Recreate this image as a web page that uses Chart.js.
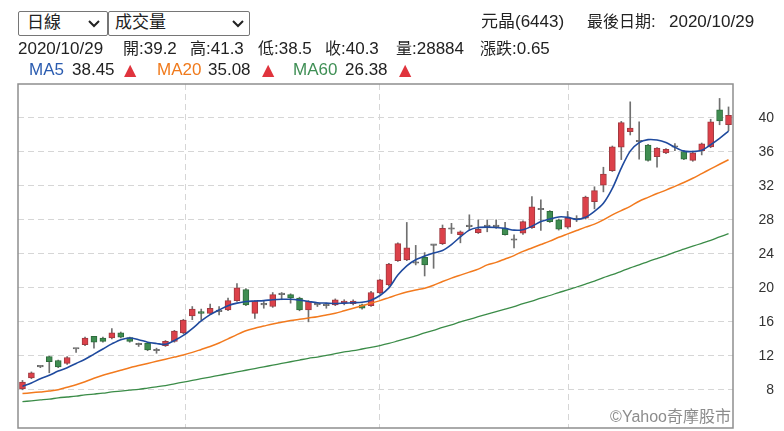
<!DOCTYPE html>
<html>
<head>
<meta charset="utf-8">
<title>元晶(6443) 日線</title>
<script src="https://cdn.jsdelivr.net/npm/chart.js@4.4.0/dist/chart.umd.min.js"></script>
<style>
    body { margin: 0; background: #fff; }
    #wrap { position: relative; width: 784px; height: 431px; overflow: hidden;
            font-family: "Liberation Sans", Arial, "Noto Sans CJK TC", sans-serif; color: #222; }
    #wrap canvas { position: absolute; left: 0; top: 0; }
    .t { position: absolute; font-size: 17px; line-height: 20px; white-space: nowrap; }
    .c { font-size: 16px; }
    .sel { position: absolute; top: 11px; height: 25px; box-sizing: border-box;
           border: 1px solid #767676; border-radius: 2px; background: #fff; }
    .sel span { position: absolute; top: 1px; font-size: 17px; line-height: 20px; }
    .sel svg { position: absolute; top: 8px; }
    .up { color: #e0343d; font-family: "DejaVu Sans", sans-serif; font-size: 16px; }
    #mark { position: absolute; right: 53px; top: 407px; font-size: 16px; line-height: 20px; color: #8c8c8c; }
</style>
</head>
<body>
<div id="wrap">
    <canvas id="kChart" width="784" height="431"></canvas>

    <div class="sel" style="left:18px;width:90px">
        <span style="left:8px">日線</span>
        <svg style="left:69px" width="12" height="8"><polyline points="1,1 6,6 11,1" fill="none" stroke="#222" stroke-width="2"/></svg>
    </div>
    <div class="sel" style="left:108px;width:142px">
        <span style="left:6px">成交量</span>
        <svg style="left:123px" width="12" height="8"><polyline points="1,1 6,6 11,1" fill="none" stroke="#222" stroke-width="2"/></svg>
    </div>

    <div class="t" style="left:481px;top:12px">元晶(6443)</div>
    <div class="t" style="left:587px;top:12px"><span class="c">最後日期</span>:</div>
    <div class="t" style="left:669px;top:12px">2020/10/29</div>

    <div class="t" style="left:18px;top:39px">2020/10/29</div>
    <div class="t" style="left:123px;top:39px"><span class="c">開</span>:39.2</div>
    <div class="t" style="left:190px;top:39px"><span class="c">高</span>:41.3</div>
    <div class="t" style="left:258px;top:39px"><span class="c">低</span>:38.5</div>
    <div class="t" style="left:325px;top:39px"><span class="c">收</span>:40.3</div>
    <div class="t" style="left:396px;top:39px"><span class="c">量</span>:28884</div>
    <div class="t" style="left:480px;top:39px"><span class="c">漲跌</span>:0.65</div>

    <div class="t" style="left:29px;top:60px;color:#2b5cb0">MA5</div>
    <div class="t" style="left:72px;top:60px">38.45</div>
    <div class="t up" style="left:124px;top:60px">▲</div>
    <div class="t" style="left:157px;top:60px;color:#f07a1c">MA20</div>
    <div class="t" style="left:208px;top:60px">35.08</div>
    <div class="t up" style="left:262px;top:60px">▲</div>
    <div class="t" style="left:293px;top:60px;color:#3f8f55">MA60</div>
    <div class="t" style="left:345px;top:60px">26.38</div>
    <div class="t up" style="left:399px;top:60px">▲</div>

    <div id="mark">©Yahoo<span>奇摩股市</span></div>
</div>

<script>
    // daily candles, oldest first (last one = 2020/10/29)
    const opens  = [8.1, 9.4, 10.7, 11.9, 11.45, 11.1, 12.8, 13.3, 14.3, 14.1,
                    14.1, 14.7, 14.15, 13.3, 13.5, 12.6, 13.2, 13.7, 14.7, 16.7,
                    17.2, 17.0, 17.2, 17.4, 18.5, 19.8, 17.0, 18.0, 17.8, 19.2,
                    19.2, 18.8, 17.4, 18.0, 17.9, 18.0, 18.2, 18.15, 18.0, 17.9,
                    19.4, 20.35, 23.2, 23.3, 22.9, 23.6, 25.0, 25.2, 26.9, 26.25,
                    27.2, 26.5, 27.2, 27.2, 27.0, 25.6, 26.45, 27.1, 29.2, 29.0,
                    28.0, 27.15, 28.0, 28.2, 30.15, 32.1, 33.8, 36.55, 38.4, 37.2,
                    36.8, 35.45, 35.9, 36.55, 36.05, 35.0, 36.15, 36.6, 40.95, 39.2];
    const highs  = [9.1, 10.1, 10.8, 11.95, 11.5, 11.9, 12.85, 14.2, 14.3, 14.2,
                    15.2, 14.8, 14.2, 13.5, 13.6, 12.9, 13.8, 15.0, 16.3, 17.8,
                    17.5, 18.1, 17.8, 18.8, 20.5, 19.9, 18.5, 18.4, 19.45, 19.45,
                    19.3, 18.9, 18.5, 18.1, 18.2, 18.7, 18.6, 18.6, 18.1, 19.6,
                    21.0, 22.9, 25.3, 27.7, 25.0, 24.15, 25.1, 27.4, 27.6, 26.7,
                    28.6, 28.0, 28.0, 28.0, 27.7, 26.25, 27.9, 30.75, 30.35, 29.1,
                    28.1, 29.0, 28.5, 30.8, 31.9, 34.2, 36.7, 39.6, 41.9, 39.55,
                    36.9, 36.5, 36.4, 37.0, 36.2, 36.1, 37.05, 39.85, 42.3, 41.3];
    const lows   = [8.0, 9.3, 10.6, 10.0, 10.6, 11.0, 12.4, 13.2, 12.9, 13.6,
                    14.0, 14.1, 13.6, 13.1, 12.6, 12.3, 13.1, 13.6, 14.6, 16.25,
                    16.2, 16.9, 16.8, 17.3, 18.4, 17.9, 16.4, 17.6, 17.7, 18.6,
                    18.2, 17.3, 16.0, 17.8, 17.6, 17.9, 18.0, 18.0, 17.5, 17.8,
                    19.3, 20.2, 23.1, 23.2, 22.7, 21.4, 22.3, 25.1, 26.4, 25.3,
                    26.8, 26.4, 26.6, 27.0, 26.2, 24.7, 26.3, 27.0, 26.75, 27.7,
                    26.8, 27.0, 27.8, 28.1, 29.3, 31.3, 33.7, 35.1, 38.0, 35.15,
                    34.9, 34.2, 35.8, 36.15, 35.1, 34.9, 35.65, 36.5, 39.2, 38.5];
    const closes = [8.9, 10.0, 10.7, 11.3, 10.7, 11.8, 12.8, 14.1, 13.6, 13.7,
                    14.7, 14.2, 13.7, 13.3, 12.7, 12.6, 13.7, 14.9, 16.2, 17.5,
                    17.0, 17.6, 17.2, 18.5, 20.0, 18.0, 18.4, 18.0, 19.2, 19.2,
                    18.8, 17.4, 18.4, 18.0, 17.9, 18.6, 18.45, 18.45, 17.6, 19.45,
                    20.95, 22.8, 25.2, 24.7, 22.9, 22.7, 25.0, 27.0, 26.9, 26.6,
                    27.2, 26.9, 27.2, 27.2, 26.25, 25.6, 27.8, 29.55, 29.2, 27.8,
                    26.9, 28.2, 28.0, 30.7, 31.45, 33.4, 36.6, 39.45, 38.8, 37.2,
                    35.0, 36.45, 36.3, 36.55, 35.15, 35.9, 36.95, 39.55, 39.65, 40.3];

    const ma5  = [8.4, 8.8, 9.3, 9.7, 10.2, 10.6, 11.1, 11.6, 12.2, 12.8,
                  13.4, 13.9, 14.1, 13.9, 13.6, 13.45, 13.35, 13.8, 14.4, 15.2,
                  16.1, 16.85, 17.4, 17.9, 18.2, 18.4, 18.45, 18.5, 18.6, 18.65,
                  18.65, 18.55, 18.4, 18.25, 18.2, 18.15, 18.2, 18.25, 18.3, 18.55,
                  19.1, 20.0, 21.5, 22.6, 23.3, 23.75, 24.1, 24.4, 25.1, 26.0,
                  26.8, 27.1, 27.15, 27.1, 27.0, 26.8, 26.85, 27.25, 27.8, 28.1,
                  28.35, 28.3, 28.05, 28.3, 29.0, 29.95, 31.7, 34.1, 36.1, 37.1,
                  37.45, 37.4, 37.1, 36.55, 36.1, 36.05, 36.2, 36.85, 37.6, 38.45];
    const ma20 = [7.55, 7.65, 7.75, 7.85, 8.0, 8.3, 8.6, 8.95, 9.35, 9.7,
                  10.0, 10.3, 10.6, 10.85, 11.1, 11.35, 11.6, 11.85, 12.1, 12.4,
                  12.75, 13.1, 13.5, 14.0, 14.5, 14.95, 15.25, 15.5, 15.75, 15.95,
                  16.15, 16.3, 16.45, 16.6, 16.8, 17.0, 17.3, 17.6, 17.9, 18.2,
                  18.5, 18.85, 19.2, 19.5, 19.75, 19.95, 20.3, 20.75, 21.15, 21.5,
                  21.85, 22.2, 22.7, 23.0, 23.4, 23.8, 24.3, 24.7, 25.1, 25.5,
                  25.95, 26.35, 26.75, 27.15, 27.5, 28.0, 28.6, 29.1, 29.6, 30.2,
                  30.65, 31.1, 31.5, 31.95, 32.4, 32.9, 33.45, 34.0, 34.55, 35.08];
    const ma60 = [6.6, 6.7, 6.8, 6.9, 7.05, 7.15, 7.25, 7.4, 7.5, 7.6,
                  7.75, 7.85, 7.95, 8.05, 8.2, 8.35, 8.5, 8.7, 8.9, 9.1,
                  9.3, 9.5, 9.7, 9.9, 10.1, 10.3, 10.5, 10.7, 10.9, 11.1,
                  11.3, 11.5, 11.7, 11.85, 12.05, 12.25, 12.45, 12.6, 12.8, 13.0,
                  13.2, 13.45, 13.75, 14.05, 14.35, 14.7, 15.0, 15.35, 15.65, 16.0,
                  16.3, 16.6, 16.9, 17.2, 17.5, 17.8, 18.15, 18.45, 18.8, 19.1,
                  19.45, 19.75, 20.1, 20.45, 20.8, 21.2, 21.55, 21.95, 22.35, 22.7,
                  23.1, 23.45, 23.8, 24.2, 24.55, 24.9, 25.25, 25.6, 26.0, 26.38];

    const yTicks = [8, 12, 16, 20, 24, 28, 32, 36, 40];
    // month boundaries (Aug / Sep / Oct), in candle units
    const monthLines = [18.2, 39.9, 61.1];

    function fillColor(i) {
        if (closes[i] === opens[i]) return '#777777';
        return closes[i] > opens[i] ? '#dc414a' : '#3f8d51';
    }
    function edgeColor(i) {
        if (closes[i] === opens[i]) return '#666666';
        return closes[i] > opens[i] ? '#a0393f' : '#2e6b3c';
    }

    const frame = {
        id: 'frame',
        afterDraw(chart) {
            const a = chart.chartArea, ctx = chart.ctx;
            ctx.save();
            ctx.strokeStyle = '#8e8e8e';
            ctx.lineWidth = 1.5;
            ctx.strokeRect(a.left, a.top, a.right - a.left, a.bottom - a.top);
            ctx.restore();
        }
    };

    const maLine = (label, arr, color, width) => ({
        type: 'line', label: label, order: 0,
        data: arr.map((v, i) => ({ x: i, y: v })),
        borderColor: color, borderWidth: width,
        pointRadius: 0, tension: 0.3, fill: false
    });

    new Chart(document.getElementById('kChart'), {
        type: 'bar',
        data: {
            datasets: [
                maLine('MA5', ma5, '#1f4a9e', 1.6),
                maLine('MA20', ma20, '#f27a1e', 1.5),
                maLine('MA60', ma60, '#3b8c48', 1.3),
                {
                    label: 'body', order: 1, grouped: false,
                    data: closes.map((c, i) => ({ x: i, y: [opens[i], c] })),
                    backgroundColor: closes.map((c, i) => fillColor(i)),
                    borderColor: closes.map((c, i) => edgeColor(i)),
                    borderWidth: 1, borderSkipped: false,
                    barThickness: 6, minBarLength: 1.5
                },
                {
                    label: 'wick', order: 2, grouped: false,
                    data: closes.map((c, i) => ({ x: i, y: [lows[i], highs[i]] })),
                    backgroundColor: '#707070',
                    barThickness: 1
                }
            ]
        },
        options: {
            responsive: false,
            animation: false,
            layout: { padding: { left: 18, top: 84, right: 10, bottom: 3 } },
            plugins: { legend: { display: false }, tooltip: { enabled: false } },
            scales: {
                x: {
                    type: 'linear', min: -0.5, max: 79.5, offset: false,
                    ticks: { display: false },
                    grid: { color: '#d6d6d6', drawTicks: false, offset: false },
                    border: { display: false, dash: [6, 4] },
                    afterBuildTicks: s => { s.ticks = monthLines.map(v => ({ value: v })); },
                    afterFit: s => { s.height = 0; }
                },
                y: {
                    position: 'right', min: 3.5, max: 44,
                    grid: { color: '#d6d6d6', drawTicks: false },
                    border: { display: false, dash: [6, 4] },
                    ticks: {
                        color: '#333',
                        font: { family: '"Liberation Sans", Arial, sans-serif', size: 14 },
                        padding: 24, crossAlign: 'far'
                    },
                    afterBuildTicks: s => { s.ticks = yTicks.map(v => ({ value: v })); },
                    afterFit: s => { s.width = 41; s.paddingTop = 0; s.paddingBottom = 0; }
                }
            }
        },
        plugins: [frame]
    });
</script>
</body>
</html>
